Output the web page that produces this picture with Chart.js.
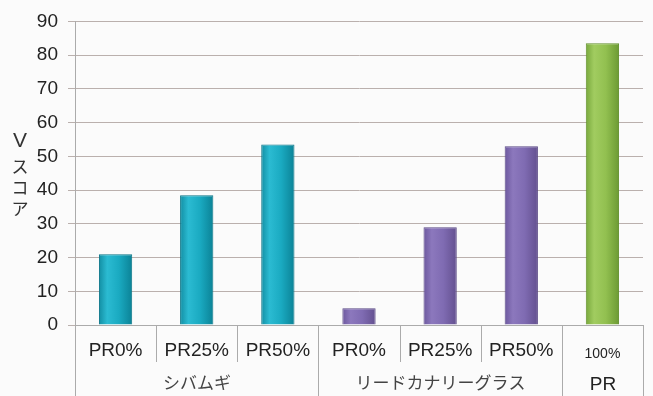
<!DOCTYPE html>
<html>
<head>
<meta charset="utf-8">
<script src="https://cdn.jsdelivr.net/npm/chart.js@4"></script>
<style>
  html,body{margin:0;padding:0;background:#fbfbfb;}
  #wrap{width:653px;height:396px;position:relative;}
</style>
</head>
<body>
<div id="wrap"><canvas id="c" width="653" height="396"></canvas></div>
<script>
// ---- data ----
const categories = ['PR0%','PR25%','PR50%','PR0%','PR25%','PR50%','100%'];
const groupNames = ['シバムギ','リードカナリーグラス','PR'];
const groupSizes = [3,3,1];
const scores = [21, 38.5, 53.5, 5, 29, 53, 83.5];
const yTickMin = 0, yTickMax = 90, yTickStep = 10;
const yTitleChars = ['V','ス','コ','ア'];

// ---- styles ----
const palettes = [
  {edgeL:'#128ea3', mid:'#2bbbd2', mid2:'#1aaac1', edgeR:'#0b8296', border:'#0a7587'},
  {edgeL:'#6c589e', mid:'#8c78bd', mid2:'#7f6bb2', edgeR:'#63508f', border:'#594885'},
  {edgeL:'#78a83c', mid:'#a1cc60', mid2:'#92c050', edgeR:'#6c9a34', border:'#62902c'}
];
function groupOf(i){ let s=0; for(let g=0;g<groupSizes.length;g++){ s+=groupSizes[g]; if(i<s) return g; } return groupSizes.length-1; }

function barFill(ctx){
  const chart = ctx.chart;
  const p = palettes[groupOf(ctx.dataIndex)];
  if(!chart.chartArea) return p.mid;
  const xs = chart.scales.x;
  const cx = xs.getPixelForValue(ctx.dataIndex);
  const w = (xs.width/categories.length)*0.41;
  const g = chart.ctx.createLinearGradient(cx-w/2,0,cx+w/2,0);
  g.addColorStop(0,p.edgeL);
  g.addColorStop(0.25,p.mid);
  g.addColorStop(0.6,p.mid2);
  g.addColorStop(1,p.edgeR);
  return g;
}

const sepColor = '#ababab';
const FONT = '"Liberation Sans", Arial, sans-serif';
const xAxisPlugin = {
  id:'xgroups',
  afterDraw(chart){
    const ctx = chart.ctx, xs = chart.scales.x, area = chart.chartArea;
    const n = categories.length;
    const bounds = [];
    for(let i=0;i<=n;i++){
      let x;
      if(i===0) x = area.left; else if(i===n) x = area.right;
      else x = (xs.getPixelForValue(i-1)+xs.getPixelForValue(i))/2;
      bounds.push(Math.round(x)+0.5);
    }
    const groupEdges = new Set([0]);
    let s=0; groupSizes.forEach(g=>{ s+=g; groupEdges.add(s); });
    ctx.save();
    ctx.strokeStyle = sepColor; ctx.lineWidth = 1;
    bounds.forEach((x,i)=>{
      ctx.beginPath();
      ctx.moveTo(x, area.bottom);
      ctx.lineTo(x, groupEdges.has(i) ? chart.height : 362);
      ctx.stroke();
    });
    // group labels
    ctx.textAlign='center'; ctx.textBaseline='middle';
    let start=0;
    groupNames.forEach((name,g)=>{
      const x0 = bounds[start], x1 = bounds[start+groupSizes[g]];
      const latin = /^[A-Za-z0-9 %]+$/.test(name);
      ctx.font = latin ? '19px ' + FONT : '17px "Noto Sans CJK JP", sans-serif';
      ctx.fillStyle = latin ? '#222' : '#444';
      ctx.fillText(name,(x0+x1)/2, latin ? 385 : 383);
      start += groupSizes[g];
    });
    // y title
    yTitleChars.forEach((ch,k)=>{
      const latin = /^[A-Za-z]$/.test(ch);
      ctx.font = latin ? '21px ' + FONT : '17px "Noto Sans CJK JP", sans-serif';
      ctx.fillStyle = '#333';
      const y = k===0 ? 141 : 167 + (k-1)*21;
      ctx.fillText(ch,20,y);
    });
    ctx.restore();
  }
};

new Chart(document.getElementById('c'),{
  type:'bar',
  data:{
    labels:categories,
    datasets:[{
      data:scores,
      backgroundColor:barFill,
      borderColor:(ctx)=>palettes[groupOf(ctx.dataIndex)].border,
      borderWidth:1,
      barPercentage:0.41,
      categoryPercentage:1
    }]
  },
  options:{
    responsive:false,
    animation:false,
    events:[],
    layout:{padding:{top:21,right:10,left:0,bottom:0}},
    plugins:{legend:{display:false},tooltip:{enabled:false}},
    scales:{
      x:{
        grid:{drawOnChartArea:false,drawTicks:false},
        border:{color:sepColor},
        ticks:{
          color:'#222',
          padding:14,
          maxRotation:0,
          autoSkip:false,
          font:(ctx)=> ctx.index===6 ? {family:FONT, size:14, lineHeight:2.2} : {family:FONT, size:19}
        },
        afterFit(s){ s.height = 71; }
      },
      y:{
        min:yTickMin,max:yTickMax,
        ticks:{stepSize:yTickStep,color:'#222',padding:10,font:{family:FONT,size:19}},
        grid:{color:'#bab0ad',tickLength:7,lineWidth:1},
        border:{color:sepColor},
        afterFit(s){ s.width = 75; }
      }
    }
  },
  plugins:[xAxisPlugin]
});
</script>
</body>
</html>
